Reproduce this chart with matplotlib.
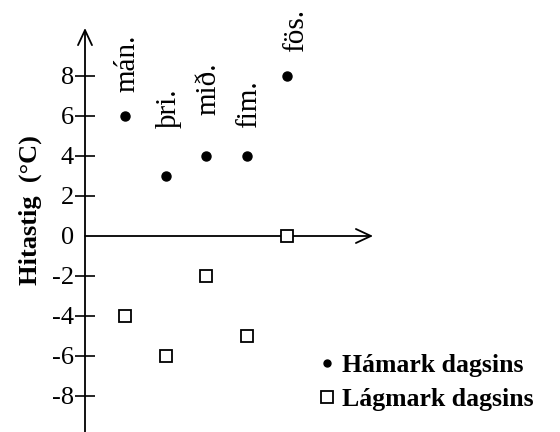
import matplotlib
matplotlib.use('Agg')
import matplotlib.pyplot as plt

plt.rcParams['font.family'] = ['Liberation Serif', 'DejaVu Serif']

# data
days = ['mán.', 'þri.', 'mið.', 'fim.', 'fös.']
day_pos = [1, 2, 3, 4, 5]
hamark = [6, 3, 4, 4, 8]
lagmark = [-4, -6, -2, -5, 0]
yticks = [-8, -6, -4, -2, 0, 2, 4, 6, 8]
ytick_labels = ['-8', '-6', '-4', '-2', '0', '2', '4', '6', '8']

# where the day names sit (above the dots)
label_y = [7.2, 5.4, 6.05, 5.4, 9.2]
label_dx = [0.06, 0.08, 0.05, 0.06, 0.22]

fig = plt.figure(figsize=(5.6, 4.32), dpi=100)
ax = fig.add_axes([0, 0, 1, 1])

# pixel mapping: x axis origin ~85px, 40.4 px per day; y zero at 236px, 20 px per unit
ax.set_xlim(-85 / 40.4, (560 - 85) / 40.4)
ax.set_ylim(-(432 - 236) / 20, 236 / 20)

for s in ['top', 'right', 'bottom']:
    ax.spines[s].set_visible(False)
ax.spines['left'].set_position(('data', 0))
ax.spines['left'].set_color('none')

ax.set_xticks([])
ax.set_yticks(yticks)
ax.set_yticklabels(ytick_labels)
ax.tick_params(axis='y', direction='inout', length=14, width=1.2, pad=1,
               labelsize=19, colors='black')
ax.yaxis.get_major_ticks()[yticks.index(0)].tick1line.set_visible(False)

# axis arrows
ax.annotate('', xy=(0, 10.4), xytext=(0, -9.9),
            arrowprops=dict(arrowstyle='->,head_length=0.6,head_width=0.28',
                            lw=1.3, color='black', mutation_scale=18,
                            shrinkA=0, shrinkB=0))
ax.annotate('', xy=(7.13, 0), xytext=(0, 0),
            arrowprops=dict(arrowstyle='->,head_length=0.6,head_width=0.28',
                            lw=1.3, color='black', mutation_scale=18,
                            shrinkA=0, shrinkB=0))

ax.plot(day_pos, hamark, 'o', ms=6.5, color='black', zorder=5,
        label='Hámark dagsins', clip_on=False)
ax.plot(day_pos, lagmark, 's', ms=9, mfc='white', mec='black', mew=1.3,
        zorder=5, label='Lágmark dagsins', clip_on=False)

for d, name, ly, dx in zip(day_pos, days, label_y, label_dx):
    ax.text(d + dx, ly, name, rotation=90, ha='center', va='bottom',
            fontsize=21)

ax.text(-1.35, 1.3, 'Hitastig  (°C)', rotation=90, ha='center', va='center',
        fontsize=19, fontweight='bold')

leg = ax.legend(loc='upper left', bbox_to_anchor=(0.572, 0.18), frameon=False,
                prop={'size': 18.5, 'weight': 'bold'}, handlelength=0.5,
                handletextpad=0.35, labelspacing=0.42, borderaxespad=0,
                borderpad=0)
leg.legend_handles[0].set_markersize(5)
leg.legend_handles[1].set_markersize(8.5)

fig.savefig('out.png', dpi=100)
